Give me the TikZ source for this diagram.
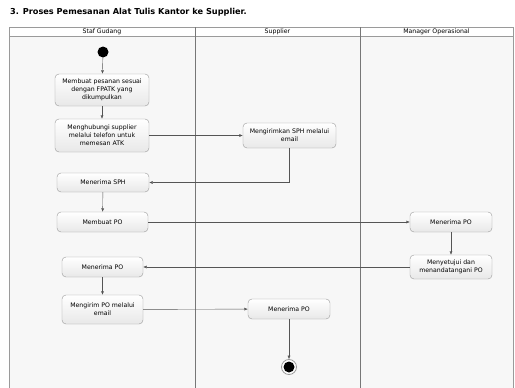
\documentclass[tikz,border=0pt]{standalone}
\usepackage{fontspec}
\setmainfont{DejaVu Sans}
\usetikzlibrary{arrows.meta}
\definecolor{garis}{HTML}{555555}
\definecolor{bingkai}{HTML}{9A9A9A}
\begin{document}
\begin{tikzpicture}[x=1pt,y=-1pt,
  act/.style={rectangle,rounded corners=4pt,draw=bingkai,top color=white,bottom color=black!9,
    align=center,inner sep=1pt,font=\fontsize{6.2}{8}\selectfont},
  lane/.style={font=\fontsize{6.2}{8}\selectfont},
  >={Latex[length=3.5pt,width=3pt]}]
\useasboundingbox (0,0) rectangle (515,388);
\fill[white] (0,0) rectangle (515,388);
% swimlane
\fill[black!3] (9.5,36) rectangle (513,388);
\draw[bingkai] (9.5,388) -- (9.5,27) -- (513,27) -- (513,388);
\draw[bingkai] (9.5,36) -- (513,36);
\draw[garis!80] (195,27) -- (195,388);
\draw[garis!80] (360,27) -- (360,388);
\node[anchor=west,inner sep=0,font=\fontsize{8.2}{9}\bfseries\selectfont] (judul) at (10,12) {3. Proses Pemesanan Alat Tulis Kantor ke Supplier.};
\node[lane] (gudang) at (102,31.5) {Staf Gudang};
\node[lane] (supplier) at (277.5,31.5) {Supplier};
\node[lane] (manager) at (436.5,31.5) {Manager Operasional};
% aktivitas
\node[circle,fill=black,minimum size=11pt,inner sep=0] (mulai) at (103,52) {};
\node[act,minimum width=94pt,minimum height=32pt] (pesan) at (102,90) {Membuat pesanan sesuai\\dengan FPATK yang\\dikumpulkan};
\node[act,minimum width=94pt,minimum height=33pt] (hubungi) at (102,135.5) {Menghubungi supplier\\melalui telefon untuk\\memesan ATK};
\node[act,minimum width=93pt,minimum height=25pt] (kirimsph) at (289.5,135.5) {Mengirimkan SPH melalui\\email};
\node[act,minimum width=92pt,minimum height=19pt] (terimasph) at (103,182.5) {Menerima SPH};
\node[act,minimum width=91pt,minimum height=20pt] (buatpo) at (102.5,222) {Membuat PO};
\node[act,minimum width=82pt,minimum height=20pt] (mgrpo) at (451,222) {Menerima PO};
\node[act,minimum width=82pt,minimum height=24pt] (setuju) at (451,267) {Menyetujui dan\\menandatangani PO};
\node[act,minimum width=81pt,minimum height=20pt] (gdpo) at (102.5,267) {Menerima PO};
\node[act,minimum width=81pt,minimum height=29pt] (kirimpo) at (102.5,309.5) {Mengirim PO melalui\\email};
\node[act,minimum width=82pt,minimum height=20pt] (suppo) at (289,309) {Menerima PO};
\node[circle,draw=bingkai,line width=0.8pt,fill=white,minimum size=15pt,inner sep=0] (akhir) at (289,367) {};
\node[circle,fill=black,minimum size=11pt,inner sep=0] at (akhir) {};
% alur
\draw[garis,->] (mulai) -- (pesan);
\draw[garis,->] (pesan) -- (hubungi);
\draw[garis,->] (hubungi) -- (kirimsph);
\draw[garis,->] (kirimsph.south) |- (terimasph.east);
\draw[garis,->] (terimasph) -- (buatpo);
\draw[garis,->] (buatpo) -- (mgrpo);
\draw[garis,->] (mgrpo) -- (setuju);
\draw[garis,->] (setuju) -- (gdpo);
\draw[garis,->] (gdpo) -- (kirimpo);
\draw[garis,->] (kirimpo) -- (suppo);
\draw[garis,->] (suppo) -- (akhir);
\end{tikzpicture}
\end{document}
